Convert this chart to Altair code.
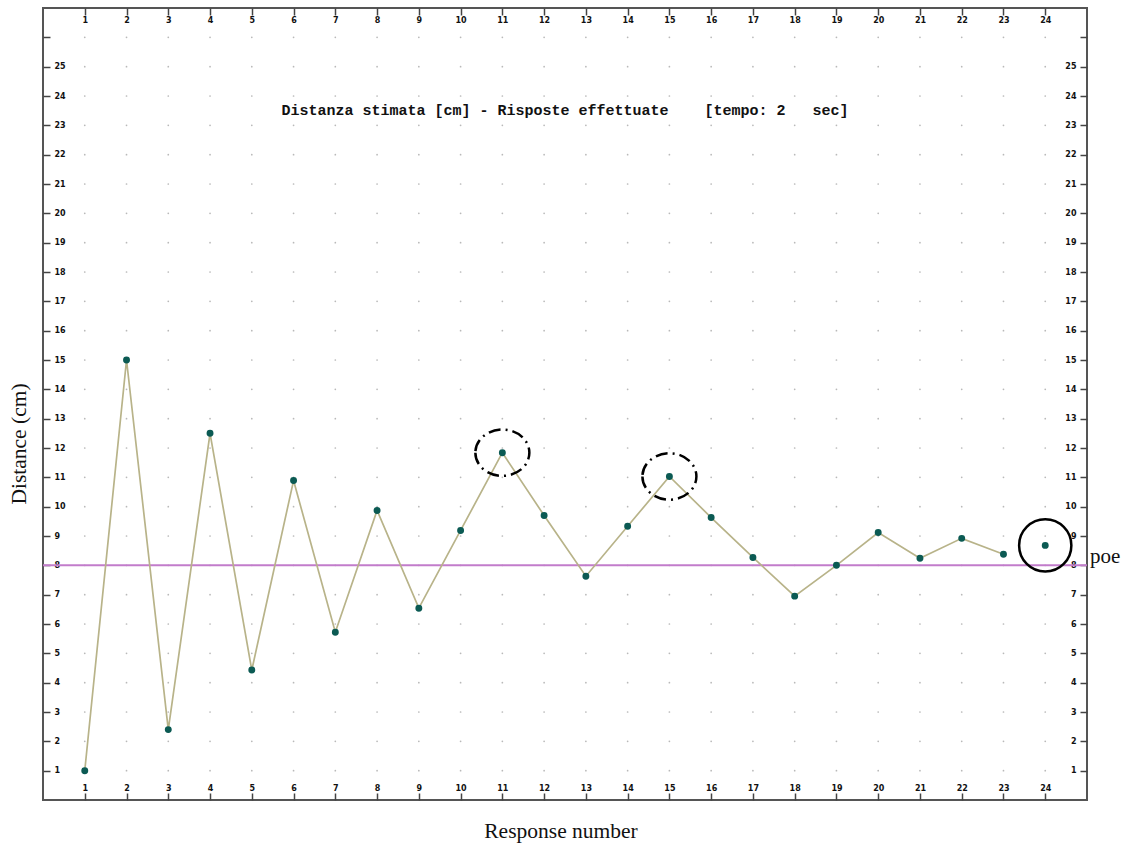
import altair as alt
import pandas as pd

# Data
responses = list(range(1, 25))
distances = [1.0, 15.0, 2.4, 12.5, 4.43, 10.89, 5.72, 9.87, 6.54, 9.19, 11.84, 9.70,
             7.63, 9.33, 11.03, 9.63, 8.27, 6.95, 8.0, 9.12, 8.24, 8.92, 8.38, 8.68]
connected = [True] * 23 + [False]
poe_value = 8.0
dashed_marked = [11, 15]
solid_marked = [24]
x_ticks = list(range(1, 25))
y_ticks = list(range(1, 27))
title_text = "Distanza stimata [cm] - Risposte effettuate\u00a0\u00a0\u00a0\u00a0[tempo: 2\u00a0\u00a0\u00a0sec]"

df = pd.DataFrame({"n": responses, "d": distances, "c": connected})
grid = pd.DataFrame([(x, y) for x in x_ticks for y in y_ticks], columns=["gx", "gy"])

W, H = 1044, 792
xs = alt.Scale(domain=[0, 25], nice=False, zero=False)
ys = alt.Scale(domain=[0, 27], nice=False, zero=False)

common_axis = dict(grid=False, domain=False, tickSize=7, offset=-7, tickColor="#444",
                   tickWidth=1.5, labelFont="DejaVu Sans", labelFontWeight="bold",
                   labelFontSize=8, labelColor="#111", labelOverlap=False, title="")

ax_bottom = alt.Axis(orient="bottom", values=x_ticks, labelPadding=-12,
                     labelBaseline="middle", **common_axis)
ax_top = alt.Axis(orient="top", values=x_ticks, labelPadding=-12,
                  labelBaseline="middle", **common_axis)
ax_left = alt.Axis(orient="left", values=y_ticks, labelPadding=-11, labelAlign="left",
                   labelExpr="datum.value == 26 ? '' : datum.label", **common_axis)
ax_right = alt.Axis(orient="right", values=y_ticks, labelPadding=-11, labelAlign="right",
                    labelExpr="datum.value == 26 ? '' : datum.label", **common_axis)

dots = alt.Chart(grid).mark_circle(size=3, color="#a8a8a8", opacity=0.8).encode(
    x=alt.X("gx:Q", scale=xs, axis=ax_bottom),
    y=alt.Y("gy:Q", scale=ys, axis=ax_left),
)

poe_line = alt.Chart(pd.DataFrame({"p": [poe_value]})).mark_rule(
    color="#c27ccb", strokeWidth=2).encode(
    y=alt.Y("p:Q", scale=ys, axis=None))

line = alt.Chart(df).transform_filter("datum.c").mark_line(
    color="#b8b389", strokeWidth=1.7).encode(
    x=alt.X("n:Q", scale=xs, axis=None),
    y=alt.Y("d:Q", scale=ys, axis=None),
)

points = alt.Chart(df).mark_circle(size=48, color="#0b5a53", opacity=1).encode(
    x=alt.X("n:Q", scale=xs, axis=ax_top),
    y=alt.Y("d:Q", scale=ys, axis=ax_right),
)

ellipse_path = "M -1 0 A 1 0.86 0 1 0 1 0 A 1 0.86 0 1 0 -1 0 Z"
dashed = alt.Chart(df[df["n"].isin(dashed_marked)]).mark_point(
    shape=ellipse_path, size=2916, stroke="black", strokeWidth=2.5, filled=False,
    strokeDash=[12, 5, 2, 5], opacity=1).encode(
    x=alt.X("n:Q", scale=xs, axis=None),
    y=alt.Y("d:Q", scale=ys, axis=None),
)

solid = alt.Chart(df[df["n"].isin(solid_marked)]).mark_point(
    shape="circle", size=2730, stroke="black", strokeWidth=2.5, filled=False,
    opacity=1).encode(
    x=alt.X("n:Q", scale=xs, axis=None),
    y=alt.Y("d:Q", scale=ys, axis=None),
)

title = alt.Chart(pd.DataFrame({"t": [title_text], "x": [12.5], "y": [23.52]})).mark_text(
    font="Liberation Mono", fontWeight="bold", fontSize=15, color="#111",
    align="center", baseline="middle").encode(
    x=alt.X("x:Q", scale=xs, axis=None),
    y=alt.Y("y:Q", scale=ys, axis=None),
    text="t:N",
)

poe_label = alt.Chart(pd.DataFrame({"t": ["poe"], "p": [poe_value]})).mark_text(
    font="Liberation Serif", fontSize=21, color="#111", align="left",
    baseline="middle", dy=-8).encode(
    x=alt.value(W + 3),
    y=alt.Y("p:Q", scale=ys, axis=None),
    text="t:N",
)

ytitle = alt.Chart(pd.DataFrame({"t": ["Distance (cm)"]})).mark_text(
    font="Liberation Serif", fontSize=21.5, color="#111", angle=270,
    align="center", baseline="middle").encode(
    x=alt.value(-23), y=alt.value(436), text="t:N")

xtitle = alt.Chart(pd.DataFrame({"t": ["Response number"]})).mark_text(
    font="Liberation Serif", fontSize=21.5, color="#111",
    align="center", baseline="middle").encode(
    x=alt.value(518), y=alt.value(824), text="t:N")

chart = alt.layer(dots, poe_line, line, points, dashed, solid, title, poe_label,
                  ytitle, xtitle).resolve_axis(
    x="independent", y="independent").properties(
    width=W, height=H,
    autosize=alt.AutoSizeParams(type="none"),
    padding={"left": 43, "top": 8, "right": 44, "bottom": 45},
    background="white",
).configure_view(stroke="#555", strokeWidth=2)

chart.save("out.html", embed_options={"renderer": "svg", "actions": False})
